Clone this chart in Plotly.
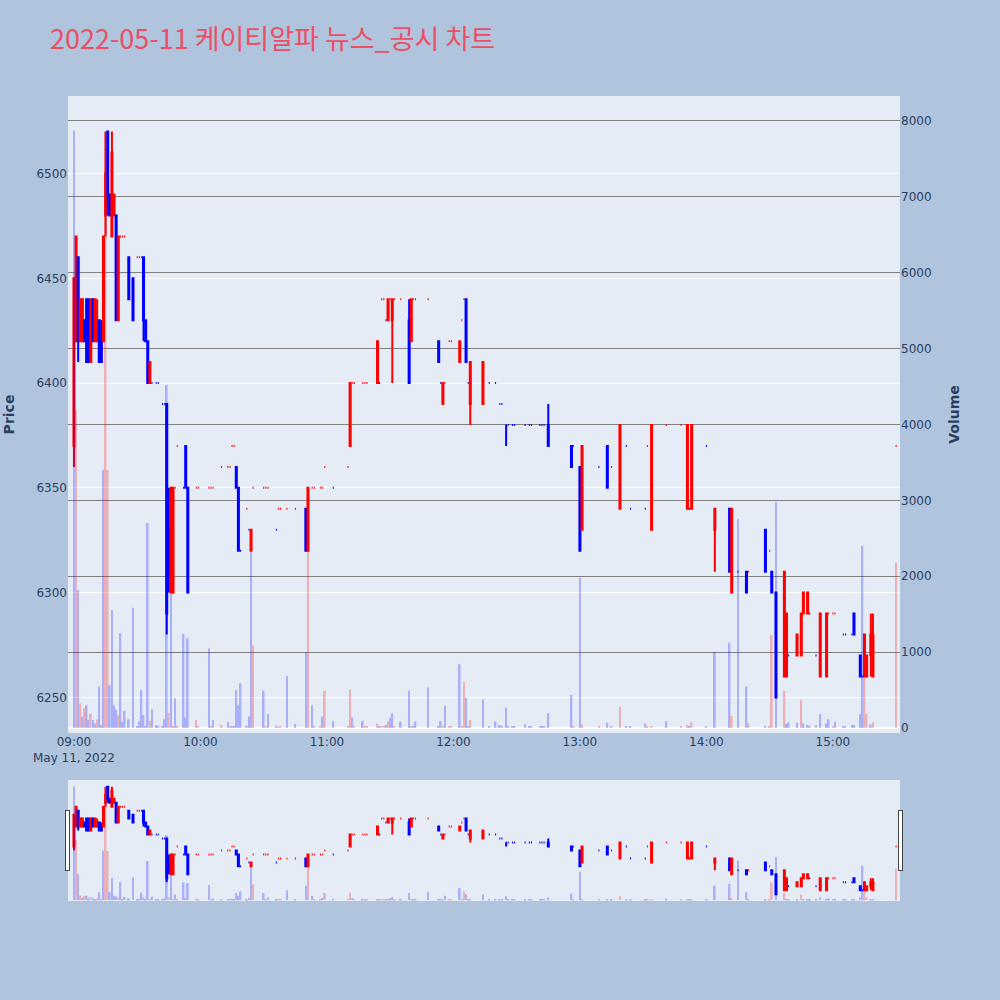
import pandas as pd
import plotly.graph_objects as go
from plotly.subplots import make_subplots

day = "2022-05-11"

times = [
    "09:00", "09:01", "09:02", "09:03", "09:04", "09:05", "09:06", "09:07", "09:08", "09:09",
    "09:10", "09:11", "09:12", "09:13", "09:14", "09:15", "09:16", "09:17", "09:18", "09:19",
    "09:20", "09:21", "09:22", "09:23", "09:24", "09:26", "09:28", "09:30", "09:31", "09:32",
    "09:33", "09:34", "09:35", "09:36", "09:37", "09:39", "09:40", "09:42", "09:43", "09:44",
    "09:45", "09:46", "09:47", "09:48", "09:49", "09:52", "09:53", "09:54", "09:58", "09:59",
    "10:04", "10:05", "10:06", "10:10", "10:13", "10:14", "10:15", "10:16", "10:17", "10:18",
    "10:19", "10:22", "10:23", "10:24", "10:25", "10:30", "10:31", "10:32", "10:36", "10:37",
    "10:38", "10:41", "10:45", "10:50", "10:51", "10:53", "10:54", "10:57", "10:58", "10:59",
    "11:03", "11:10", "11:11", "11:12", "11:13", "11:17", "11:18", "11:19", "11:24", "11:25",
    "11:26", "11:27", "11:28", "11:29", "11:30", "11:31", "11:32", "11:35", "11:39", "11:40",
    "11:41", "11:42", "11:48", "11:53", "11:54", "11:55", "11:56", "11:58", "11:59", "12:03",
    "12:04", "12:05", "12:06", "12:07", "12:08", "12:14", "12:17", "12:20", "12:22", "12:23",
    "12:25", "12:26", "12:28", "12:29", "12:34", "12:36", "12:37", "12:41", "12:42", "12:43",
    "12:45", "12:56", "12:57", "13:00", "13:01", "13:09", "13:13", "13:15", "13:19", "13:22",
    "13:24", "13:31", "13:32", "13:34", "13:41", "13:48", "13:51", "13:52", "13:53", "14:00",
    "14:04", "14:11", "14:12", "14:15", "14:19", "14:20", "14:28", "14:30", "14:31", "14:33",
    "14:37", "14:38", "14:39", "14:43", "14:45", "14:46", "14:48", "14:49", "14:52", "14:54",
    "14:57", "14:58", "15:00", "15:01", "15:05", "15:06", "15:09", "15:10", "15:13", "15:14",
    "15:15", "15:16", "15:18", "15:19", "15:30",
]

opens = [
    6370, 6420, 6460, 6420, 6420, 6430, 6440, 6440, 6410, 6440,
    6420, 6420, 6430, 6420, 6420, 6480, 6520, 6490, 6470, 6480,
    6480, 6430, 6470, 6470, 6470, 6460, 6450, 6460, 6460, 6460,
    6460, 6430, 6420, 6400, 6400, 6400, 6400, 6390, 6390, 6390,
    6330, 6300, 6300, 6350, 6370, 6350, 6370, 6350, 6350, 6350,
    6350, 6350, 6350, 6360, 6360, 6360, 6370, 6370, 6360, 6350,
    6320, 6340, 6330, 6320, 6350, 6350, 6350, 6350, 6330, 6340,
    6340, 6340, 6340, 6340, 6320, 6350, 6350, 6350, 6350, 6360,
    6350, 6360, 6370, 6400, 6400, 6400, 6400, 6400, 6400, 6400,
    6440, 6440, 6430, 6430, 6440, 6430, 6440, 6440, 6430, 6420,
    6440, 6440, 6440, 6420, 6400, 6390, 6400, 6420, 6420, 6410,
    6430, 6440, 6440, 6400, 6390, 6390, 6400, 6400, 6390, 6390,
    6380, 6380, 6380, 6380, 6380, 6380, 6380, 6380, 6380, 6380,
    6380, 6370, 6370, 6360, 6330, 6360, 6370, 6360, 6340, 6370,
    6340, 6340, 6370, 6330, 6380, 6380, 6340, 6340, 6340, 6370,
    6330, 6340, 6300, 6310, 6310, 6310, 6330, 6320, 6310, 6300,
    6260, 6260, 6270, 6270, 6270, 6290, 6290, 6290, 6270, 6260,
    6260, 6290, 6290, 6290, 6280, 6280, 6280, 6290, 6270, 6260,
    6260, 6260, 6270, 6260, 6370,
]

highs = [
    6450, 6470, 6460, 6440, 6440, 6430, 6440, 6440, 6440, 6440,
    6440, 6440, 6430, 6430, 6470, 6520, 6520, 6490, 6520, 6490,
    6480, 6470, 6470, 6470, 6470, 6460, 6450, 6460, 6460, 6460,
    6460, 6430, 6420, 6410, 6400, 6400, 6400, 6390, 6390, 6390,
    6350, 6350, 6350, 6350, 6370, 6350, 6370, 6350, 6350, 6350,
    6350, 6350, 6350, 6360, 6360, 6360, 6370, 6370, 6360, 6350,
    6320, 6340, 6330, 6330, 6350, 6350, 6350, 6350, 6330, 6340,
    6340, 6340, 6340, 6340, 6350, 6350, 6350, 6350, 6350, 6360,
    6350, 6360, 6400, 6400, 6400, 6400, 6400, 6400, 6420, 6400,
    6440, 6440, 6430, 6440, 6440, 6440, 6440, 6440, 6440, 6440,
    6440, 6440, 6440, 6420, 6400, 6400, 6400, 6420, 6420, 6420,
    6430, 6440, 6440, 6400, 6410, 6410, 6400, 6400, 6390, 6390,
    6380, 6380, 6380, 6380, 6380, 6380, 6380, 6380, 6380, 6380,
    6390, 6370, 6370, 6360, 6370, 6360, 6370, 6360, 6380, 6370,
    6340, 6340, 6370, 6380, 6380, 6380, 6380, 6340, 6380, 6370,
    6340, 6340, 6340, 6310, 6310, 6310, 6330, 6320, 6310, 6300,
    6310, 6290, 6270, 6280, 6290, 6300, 6300, 6290, 6270, 6290,
    6290, 6290, 6290, 6290, 6280, 6280, 6280, 6290, 6270, 6260,
    6280, 6270, 6290, 6290, 6370,
]

lows = [
    6360, 6420, 6410, 6420, 6420, 6420, 6410, 6410, 6410, 6420,
    6420, 6420, 6410, 6410, 6420, 6470, 6480, 6480, 6470, 6480,
    6430, 6430, 6470, 6470, 6470, 6440, 6430, 6460, 6460, 6460,
    6420, 6420, 6400, 6400, 6400, 6400, 6400, 6390, 6390, 6280,
    6300, 6300, 6300, 6350, 6370, 6350, 6350, 6300, 6350, 6350,
    6350, 6350, 6350, 6360, 6360, 6360, 6370, 6370, 6350, 6320,
    6320, 6340, 6330, 6320, 6350, 6350, 6350, 6350, 6330, 6340,
    6340, 6340, 6340, 6320, 6320, 6350, 6350, 6350, 6350, 6360,
    6350, 6360, 6370, 6400, 6400, 6400, 6400, 6400, 6400, 6400,
    6440, 6440, 6430, 6430, 6440, 6400, 6440, 6440, 6400, 6420,
    6440, 6440, 6440, 6410, 6400, 6390, 6400, 6420, 6420, 6410,
    6430, 6440, 6410, 6400, 6380, 6390, 6400, 6400, 6390, 6390,
    6370, 6380, 6380, 6380, 6380, 6380, 6380, 6380, 6380, 6380,
    6370, 6360, 6370, 6320, 6330, 6360, 6350, 6360, 6340, 6370,
    6340, 6340, 6370, 6330, 6380, 6380, 6340, 6340, 6340, 6370,
    6310, 6310, 6300, 6310, 6300, 6310, 6310, 6320, 6300, 6250,
    6260, 6260, 6270, 6270, 6270, 6290, 6290, 6290, 6270, 6260,
    6260, 6290, 6290, 6290, 6280, 6280, 6280, 6280, 6260, 6260,
    6260, 6260, 6260, 6260, 6370,
]

closes = [
    6450, 6470, 6420, 6440, 6440, 6420, 6410, 6410, 6440, 6420,
    6440, 6430, 6410, 6410, 6470, 6500, 6490, 6480, 6510, 6490,
    6430, 6470, 6470, 6470, 6470, 6440, 6430, 6460, 6460, 6460,
    6430, 6420, 6400, 6410, 6400, 6400, 6400, 6390, 6390, 6290,
    6310, 6350, 6350, 6350, 6370, 6350, 6350, 6300, 6350, 6350,
    6350, 6350, 6350, 6360, 6360, 6360, 6370, 6370, 6350, 6320,
    6320, 6340, 6330, 6330, 6350, 6350, 6350, 6350, 6330, 6340,
    6340, 6340, 6340, 6320, 6350, 6350, 6350, 6350, 6350, 6360,
    6350, 6360, 6400, 6400, 6400, 6400, 6400, 6400, 6420, 6400,
    6440, 6440, 6430, 6440, 6440, 6440, 6440, 6440, 6400, 6440,
    6440, 6440, 6440, 6410, 6400, 6400, 6400, 6420, 6420, 6420,
    6430, 6440, 6410, 6400, 6410, 6410, 6400, 6400, 6390, 6390,
    6380, 6380, 6380, 6380, 6380, 6380, 6380, 6380, 6380, 6380,
    6370, 6360, 6370, 6320, 6370, 6360, 6350, 6360, 6380, 6370,
    6340, 6340, 6370, 6380, 6380, 6380, 6380, 6340, 6380, 6370,
    6340, 6310, 6340, 6310, 6300, 6310, 6310, 6320, 6300, 6250,
    6310, 6290, 6270, 6280, 6290, 6300, 6300, 6290, 6270, 6290,
    6290, 6290, 6290, 6290, 6280, 6280, 6280, 6280, 6260, 6260,
    6280, 6270, 6280, 6280, 6370,
]

volumes = [
    7870, 4190, 1820, 325, 150, 260, 300, 105, 190, 105,
    60, 115, 545, 40, 3400, 7850, 3400, 565, 1555, 300,
    240, 170, 1250, 80, 225, 115, 1585, 20, 85, 500,
    170, 30, 2700, 95, 245, 40, 30, 20, 115, 4520,
    200, 1775, 20, 390, 30, 1240, 140, 1180, 105, 20,
    1050, 30, 105, 40, 80, 30, 20, 20, 500, 300,
    590, 30, 150, 2320, 1090, 490, 20, 185, 30, 10,
    20, 685, 55, 990, 2345, 300, 20, 20, 150, 490,
    90, 30, 510, 140, 20, 90, 20, 20, 60, 20,
    20, 20, 40, 85, 135, 195, 20, 85, 490, 20,
    25, 85, 535, 25, 90, 30, 290, 20, 20, 840,
    20, 610, 400, 20, 105, 380, 20, 85, 40, 20,
    270, 20, 20, 20, 50, 20, 20, 20, 20, 20,
    195, 435, 20, 1980, 50, 20, 70, 20, 280, 20,
    20, 60, 20, 20, 90, 20, 40, 20, 75, 20,
    1005, 1125, 160, 2750, 545, 60, 20, 20, 1225, 2980,
    490, 55, 75, 70, 370, 60, 40, 20, 40, 185,
    60, 115, 20, 85, 20, 20, 40, 40, 185, 2400,
    1200, 185, 45, 75, 2180,
]

# u = up tick (red), d = down tick (blue)
vol_dir = list(
    "dudududdud"
    "duddduuddd"
    "dudddddddd"
    "dddudddddd"
    "udududdduu"
    "dudududddd"
    "ddddududdu"
    "uddduduudu"
    "duududuuud"
    "uududduddu"
    "ddddduduud"
    "uudduddddd"
    "dddddddddd"
    "dduduuddud"
    "dduuduudud"
    "ddudduduud"
    "uddduddddd"
    "dduddddddd"
    "uuduu"
)

x = pd.to_datetime([f"{day} {t}" for t in times])
vol_colors = ["red" if d == "u" else "blue" for d in vol_dir]

fig = make_subplots(specs=[[{"secondary_y": True}]])

fig.add_trace(
    go.Candlestick(
        x=x,
        open=opens,
        high=highs,
        low=lows,
        close=closes,
        increasing=dict(line=dict(color="red"), fillcolor="red"),
        decreasing=dict(line=dict(color="blue"), fillcolor="blue"),
        name="Price",
        showlegend=False,
    ),
    secondary_y=False,
)

fig.add_trace(
    go.Bar(
        x=x,
        y=volumes,
        marker=dict(color=vol_colors, line=dict(width=0)),
        opacity=0.25,
        name="Volume",
        showlegend=False,
    ),
    secondary_y=True,
)

fig.update_layout(
    title=dict(
        text="2022-05-11 케이티알파 뉴스_공시 차트",
        x=0.05,
        y=0.96,
        yanchor="middle",
        font=dict(family="Noto Sans CJK KR", size=27, color="#EB4F64"),
    ),
    font=dict(family="DejaVu Sans, Noto Sans CJK KR", size=12),
    paper_bgcolor="lightsteelblue",
    width=1000,
    height=1000,
    margin=dict(l=68, r=100, t=96, b=100),
    xaxis=dict(
        domain=[0, 1],
        showgrid=False,
        automargin=False,
        range=[f"{day} 08:57:10", f"{day} 15:31:50"],
        rangeslider=dict(visible=True, bgcolor="#E5ECF6"),
    ),
)

fig.update_yaxes(
    title=dict(text="Price", font=dict(size=14, weight="bold"), standoff=18),
    range=[6233, 6537],
    automargin=False,
    secondary_y=False,
)
fig.update_yaxes(
    title=dict(text="Volume", font=dict(size=14, weight="bold"), standoff=18),
    range=[-66, 8329],
    gridcolor="grey",
    automargin=False,
    secondary_y=True,
)

fig.write_html(
    "out.html",
    config={"displayModeBar": False},
    post_script="document.body.style.margin='0';",
)
